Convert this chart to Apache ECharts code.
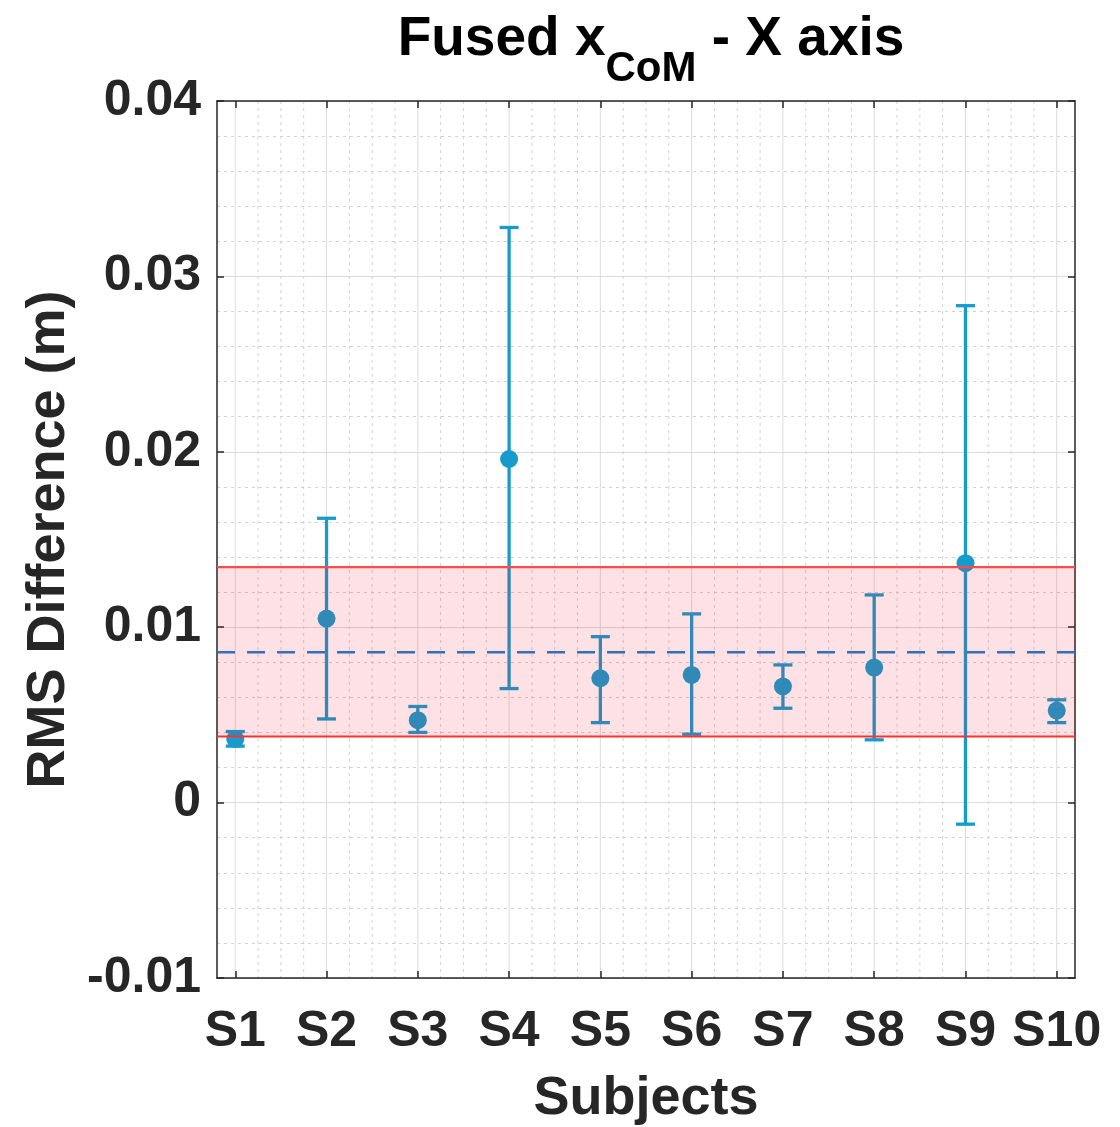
<!DOCTYPE html>
<html>
<head>
<meta charset="utf-8">
<title>Fused xCoM - X axis</title>
<script src="https://cdn.jsdelivr.net/npm/echarts@6/dist/echarts.min.js"></script>
<style>
  html, body { margin: 0; padding: 0; background: #ffffff; }
  #chart { width: 1120px; height: 1127px; }
</style>
</head>
<body>
<div id="chart"></div>
<script>
// Subjects and their x positions
const subjects = ['S1', 'S2', 'S3', 'S4', 'S5', 'S6', 'S7', 'S8', 'S9', 'S10'];
const subjectPos = [1, 2, 3, 4, 5, 6, 7, 8, 9, 10];

// RMS difference per subject (m): mean and error-bar ends
const meanRms  = [0.00362, 0.01049, 0.00470, 0.01959, 0.00709, 0.00728, 0.00662, 0.00770, 0.01365, 0.00525];
const upperRms = [0.00405, 0.01621, 0.00548, 0.03279, 0.00946, 0.01076, 0.00785, 0.01184, 0.02833, 0.00586];
const lowerRms = [0.00322, 0.00477, 0.00400, 0.00650, 0.00456, 0.00390, 0.00538, 0.00358, -0.00123, 0.00456];

// Group mean and the mean ± SD band
const groupMean = 0.00857;
const bandLow = 0.00377;
const bandHigh = 0.01342;

// Axis settings
const xMin = 0.8, xMax = 10.2;
const yMin = -0.01, yMax = 0.04, yStep = 0.01;
const xMinorStep = 0.25;

const TEXT = '#262626';
const FONT = '"Liberation Sans", Arial, Helvetica, sans-serif';
const BAR_COLOR = '#179bcc';

// minor vertical grid positions between subjects
const xMinor = [];
for (let k = 1; k < 10; k++) {
  for (let q = 1; q < 4; q++) xMinor.push(k + q * xMinorStep);
}

const errorData = subjectPos.map((x, i) => [x, lowerRms[i], upperRms[i]]);
const meanData = subjectPos.map((x, i) => [x, meanRms[i]]);

const chart = echarts.init(document.getElementById('chart'), null, { renderer: 'canvas' });

const axisLineStyle = { color: TEXT, width: 1.5 };

const option = {
  backgroundColor: '#ffffff',
  animation: false,
  title: {
    text: '{m|Fused x}{s|CoM}{m| - X axis}',
    left: 646,
    top: 7,
    textAlign: 'center',
    textStyle: {
      rich: {
        m: { fontSize: 55, fontWeight: 'bold', fontFamily: FONT, color: '#000000', lineHeight: 56, verticalAlign: 'top' },
        s: { fontSize: 42, fontWeight: 'bold', fontFamily: FONT, color: '#000000', lineHeight: 42, verticalAlign: 'top', padding: [36, 0, 0, 0] }
      }
    }
  },
  grid: { left: 217, right: 45, top: 101, bottom: 149, containLabel: false, outerBoundsMode: 'none' },
  xAxis: [
    {
      type: 'value', min: xMin, max: xMax, position: 'bottom',
      name: 'Subjects', nameLocation: 'middle', nameGap: 94,
      nameTextStyle: { fontSize: 54, fontWeight: 'bold', fontFamily: FONT, color: TEXT },
      axisLine: { show: true, onZero: false, lineStyle: axisLineStyle },
      axisTick: { show: true, inside: true, length: 7, customValues: subjectPos, lineStyle: axisLineStyle },
      axisLabel: {
        show: true, customValues: subjectPos, margin: 29,
        fontSize: 50, fontWeight: 'bold', fontFamily: FONT, color: TEXT,
        formatter: v => subjects[Math.round(v) - 1]
      },
      splitLine: { show: false }
    },
    {
      type: 'value', min: xMin, max: xMax, position: 'top',
      axisLine: { show: true, onZero: false, lineStyle: axisLineStyle },
      axisTick: { show: true, inside: true, length: 7, customValues: subjectPos, lineStyle: axisLineStyle },
      axisLabel: { show: false },
      splitLine: { show: false }
    }
  ],
  yAxis: [
    {
      type: 'value', min: yMin, max: yMax, interval: yStep, position: 'left',
      name: 'RMS Difference (m)', nameLocation: 'middle', nameGap: 141,
      nameTextStyle: { fontSize: 54, fontWeight: 'bold', fontFamily: FONT, color: TEXT },
      axisLine: { show: true, onZero: false, lineStyle: axisLineStyle },
      axisTick: { show: true, inside: true, length: 7, lineStyle: axisLineStyle },
      axisLabel: {
        margin: 16, fontSize: 50, fontWeight: 'bold', fontFamily: FONT, color: TEXT,
        padding: [7, 0, 0, 0],
        formatter: v => (Math.abs(v) < 1e-9 ? '0' : v.toFixed(2))
      },
      splitLine: { show: true, lineStyle: { color: '#dcdcdc', width: 1 } },
      minorTick: { show: false, splitNumber: 5 },
      minorSplitLine: { show: true, lineStyle: { color: '#d2d2d2', width: 1, type: [3, 4] } }
    },
    {
      type: 'value', min: yMin, max: yMax, interval: yStep, position: 'right',
      axisLine: { show: true, onZero: false, lineStyle: axisLineStyle },
      axisTick: { show: true, inside: true, length: 7, lineStyle: axisLineStyle },
      axisLabel: { show: false },
      splitLine: { show: false }
    }
  ],
  series: [
    {
      // vertical grid lines (major at subjects, dotted minor between)
      type: 'custom',
      name: 'xgrid',
      xAxisIndex: 0, yAxisIndex: 0,
      z: 0,
      silent: true,
      data: [[xMin, yMin]],
      renderItem: function (params, api) {
        const cs = params.coordSys;
        const children = [];
        xMinor.forEach(v => {
          const px = api.coord([v, yMin])[0];
          children.push({
            type: 'line',
            shape: { x1: px, y1: cs.y, x2: px, y2: cs.y + cs.height },
            style: { stroke: '#d2d2d2', lineWidth: 1, lineDash: [3, 4] }
          });
        });
        subjectPos.forEach(v => {
          const px = api.coord([v, yMin])[0];
          children.push({
            type: 'line',
            shape: { x1: px, y1: cs.y, x2: px, y2: cs.y + cs.height },
            style: { stroke: '#dcdcdc', lineWidth: 1 }
          });
        });
        return { type: 'group', children: children };
      }
    },
    {
      // error bars with caps
      type: 'custom',
      name: 'range',
      xAxisIndex: 0, yAxisIndex: 0,
      z: 2,
      data: errorData,
      renderItem: function (params, api) {
        const x = api.value(0);
        const lo = api.coord([x, api.value(1)]);
        const hi = api.coord([x, api.value(2)]);
        const half = 9.5;
        const st = { stroke: BAR_COLOR, lineWidth: 3.3 };
        return {
          type: 'group',
          children: [
            { type: 'line', shape: { x1: lo[0], y1: lo[1], x2: hi[0], y2: hi[1] }, style: st },
            { type: 'line', shape: { x1: hi[0] - half, y1: hi[1], x2: hi[0] + half, y2: hi[1] }, style: st },
            { type: 'line', shape: { x1: lo[0] - half, y1: lo[1], x2: lo[0] + half, y2: lo[1] }, style: st }
          ]
        };
      }
    },
    {
      // subject means
      type: 'scatter',
      name: 'mean',
      xAxisIndex: 0, yAxisIndex: 0,
      z: 2,
      symbol: 'circle',
      symbolSize: 18,
      itemStyle: { color: BAR_COLOR, opacity: 1 },
      data: meanData
    },
    {
      // translucent mean ± SD band over the bars, edge lines and group mean
      type: 'custom',
      name: 'band',
      xAxisIndex: 0, yAxisIndex: 0,
      z: 3,
      silent: true,
      data: [[groupMean, bandLow, bandHigh]],
      renderItem: function (params, api) {
        const cs = params.coordSys;
        const yM = api.coord([xMin, api.value(0)])[1];
        const yL = api.coord([xMin, api.value(1)])[1];
        const yH = api.coord([xMin, api.value(2)])[1];
        return {
          type: 'group',
          children: [
            {
              type: 'rect',
              shape: { x: cs.x, y: yH, width: cs.width, height: yL - yH },
              style: { fill: 'rgba(238, 5, 30, 0.12)' }
            },
            {
              type: 'line',
              shape: { x1: cs.x, y1: yH, x2: cs.x + cs.width, y2: yH },
              style: { stroke: '#ff4a4a', lineWidth: 2.2 }
            },
            {
              type: 'line',
              shape: { x1: cs.x, y1: yL, x2: cs.x + cs.width, y2: yL },
              style: { stroke: '#ff3030', lineWidth: 2 }
            },
            {
              type: 'line',
              shape: { x1: cs.x, y1: yM, x2: cs.x + cs.width, y2: yM },
              style: { stroke: '#336fb6', lineWidth: 2.5, lineDash: [18, 12] }
            }
          ]
        };
      }
    }
  ]
};

chart.setOption(option);
</script>
</body>
</html>
